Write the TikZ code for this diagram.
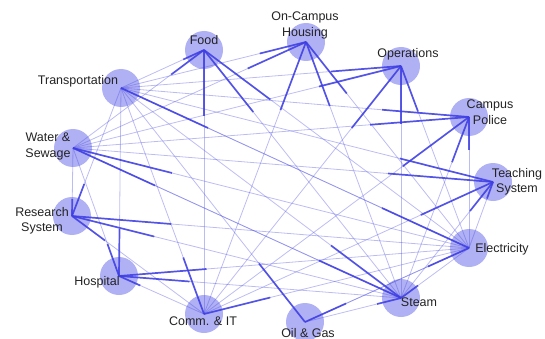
\documentclass[tikz,border=0pt]{standalone}
\usepackage{fontspec}
\setmainfont{Liberation Sans}
\usetikzlibrary{calc}
\definecolor{linkc}{RGB}{80,80,225}
\definecolor{darkc}{RGB}{62,62,228}
\definecolor{nodefill}{RGB}{176,176,244}
\definecolor{labc}{RGB}{35,35,35}

\begin{document}
\begin{tikzpicture}[x=1pt,y=-1pt,
  hub/.style={circle,fill=nodefill,minimum size=38pt,inner sep=0pt},
  lbl/.style={text=labc,font=\fontsize{12.5}{15.3}\selectfont,align=center,inner sep=0pt,anchor=north},
  link/.style={draw=linkc,opacity=0.38,line width=0.8pt},
  head/.style={draw=darkc,opacity=0.85,line width=1.7pt}]
\useasboundingbox (0,0) rectangle (545,339);

% systems, placed on a ring
\node[hub] (food)  at (204,50)  {};
\node[hub] (hous)  at (306,42)  {};
\node[hub] (oper)  at (401,66)  {};
\node[hub] (pol)   at (469,117) {};
\node[hub] (teach) at (493,182) {};
\node[hub] (elec)  at (469,248) {};
\node[hub] (steam) at (401,298) {};
\node[hub] (oil)   at (305,322) {};
\node[hub] (comm)  at (204,314) {};
\node[hub] (hosp)  at (119,276) {};
\node[hub] (res)   at (72,216)  {};
\node[hub] (water) at (73,148)  {};
\node[hub] (trans) at (121,88)  {};

% dependencies: source/target
\def\deps{food/trans, food/water, food/comm, food/steam, food/elec,
  hous/trans, hous/water, hous/comm, hous/steam, hous/elec,
  oper/trans, oper/water, oper/comm, oper/steam, oper/elec,
  pol/trans, pol/water, pol/comm, pol/steam, pol/elec,
  teach/trans, teach/water, teach/comm, teach/steam, teach/elec,
  hosp/trans, hosp/water, hosp/comm, hosp/steam, hosp/elec,
  res/trans, res/water, res/comm, res/steam, res/elec,
  trans/elec, elec/trans, elec/oil, oil/elec, oil/trans,
  steam/trans, steam/water, steam/elec, steam/oil,
  comm/trans, comm/elec, water/elec, water/steam}

% full links
\foreach \s/\t in \deps
  \draw[link] (\s.center) -- (\t.center);
% strong quarter at the dependent end
\foreach \s/\t in \deps
  \draw[head] (\s.center) -- ($(\s.center)!0.25!(\t.center)$);

% labels
\node[lbl] (lfood)  at (204,35)  {Food};
\node[lbl] (lhous)  at (305,12)  {On-Campus\\Housing};
\node[lbl] (loper)  at (408,48)  {Operations};
\node[lbl] (lpol)   at (490,100) {Campus\\Police};
\node[lbl] (lteach) at (517,168) {Teaching\\System};
\node[lbl] (lelec)  at (502,243) {Electricity};
\node[lbl] (lsteam) at (419,298) {Steam};
\node[lbl] (loil)   at (308,328) {Oil \& Gas};
\node[lbl] (lcomm)  at (203,317) {Comm. \& IT};
\node[lbl] (lhosp)  at (97,276)  {Hospital};
\node[lbl] (lres)   at (42,207)  {Research\\System};
\node[lbl] (lwater) at (48,133)  {Water \&\\Sewage};
\node[lbl] (ltrans) at (78,75)   {Transportation};
\end{tikzpicture}
\end{document}
